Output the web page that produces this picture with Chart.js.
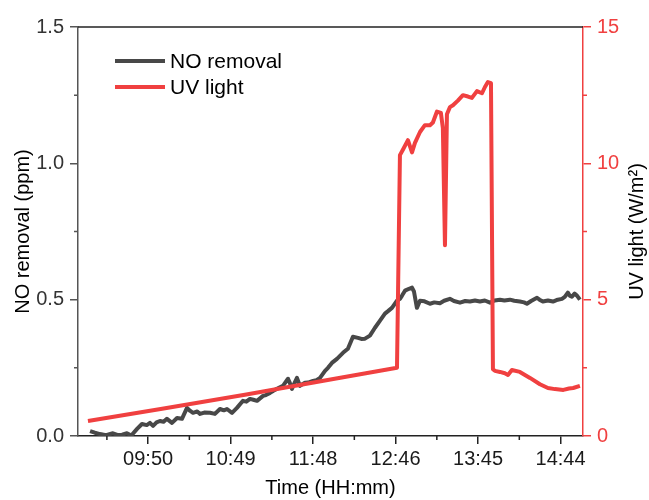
<!DOCTYPE html>
<html><head><meta charset="utf-8">
<script src="https://cdn.jsdelivr.net/npm/chart.js@4.4.1/dist/chart.umd.min.js"></script>
<style>html,body{margin:0;padding:0;background:#fff}#wrap{width:649px;height:500px}</style>
</head><body><div id="wrap"><canvas id="c" width="649" height="500"></canvas></div>
<script>
// x values are minutes after 09:00
const xTickMinutes = [50, 108.8, 167.6, 226.4, 285.2, 344];
const xTickLabels = ['09:50', '10:49', '11:48', '12:46', '13:45', '14:44'];
const xMinorMinutes = [20.6, 79.4, 138.2, 197, 255.8, 314.6];
const leftTicks = [0, 0.5, 1.0, 1.5];
const leftMinor = [0.25, 0.75, 1.25];
const rightTicks = [0, 5, 10, 15];
const rightMinor = [2.5, 7.5, 12.5];
const rightTitle = 'UV light (W/m²)';

const noTime = [8.6,12,15.7,20,24.9,28,31.4,34.9,38,42.1,45.6,49,51.3,53.5,56,58.4,61,63.4,67,70.6,74.1,77.7,80,82,85,87,90,94.1,97.6,101.2,104,106.2,109.8,113.3,117.6,120,122.6,125,127.6,131.9,134,136.9,139,141.8,146.1,149.7,151,152.5,154,156.1,158.2,161.8,164,167.5,170,172.5,176.1,178.2,181,184.6,188.9,192.4,196,199.6,202,204.6,208.1,211.7,215.3,218.8,221,223.8,227.4,229.5,231,233.1,236,238.1,239.5,241.6,243.8,247,250.9,254,258,261,265.1,268,272.3,276,279.4,283,286.5,290,293.7,297,300.8,304,307.9,311,315,318,320,323,327.2,329,331.4,335,338.6,342,345,347,349.2,350.5,352.1,354,355.7,357.8];
const noValue = [0.018,0.012,0.007,0.003,0.010,0.004,0.005,0.010,0.002,0.026,0.044,0.040,0.048,0.037,0.050,0.055,0.052,0.063,0.048,0.066,0.063,0.103,0.092,0.085,0.090,0.081,0.086,0.085,0.081,0.099,0.094,0.099,0.085,0.103,0.129,0.126,0.136,0.133,0.129,0.147,0.150,0.158,0.165,0.173,0.184,0.210,0.195,0.173,0.190,0.213,0.184,0.195,0.196,0.202,0.205,0.213,0.239,0.250,0.268,0.283,0.305,0.320,0.364,0.360,0.356,0.357,0.368,0.397,0.423,0.449,0.458,0.470,0.496,0.503,0.515,0.533,0.540,0.544,0.530,0.470,0.496,0.494,0.485,0.490,0.487,0.496,0.503,0.495,0.489,0.495,0.493,0.497,0.493,0.497,0.489,0.497,0.500,0.497,0.500,0.496,0.493,0.490,0.485,0.495,0.507,0.500,0.493,0.497,0.493,0.500,0.503,0.510,0.526,0.515,0.511,0.522,0.515,0.500];

const uvTime = [7.1,60,120,180,227.4,229.5,231.6,235.2,238.1,240.2,243.8,247.3,250.9,253,255.9,258.7,260.1,261.6,263,265.1,267.3,270.8,274.4,278,280.8,284.4,288,290.1,292.2,294.4,295.8,297.2,300.8,304.3,306.5,309.3,315,322.2,329.3,335,340,346,350,353,357.8];
const uvValue = [0.55,1.0,1.52,2.07,2.5,10.3,10.5,10.85,10.4,10.75,11.15,11.4,11.4,11.5,11.9,11.85,11.3,7.0,11.8,12.06,12.13,12.3,12.5,12.45,12.4,12.65,12.57,12.8,12.98,12.94,2.45,2.39,2.35,2.3,2.24,2.42,2.35,2.13,1.9,1.76,1.72,1.69,1.74,1.76,1.84];

const FONT = '"Liberation Sans", Arial, sans-serif';
const GRAY = '#484848';
const RED = '#F04040';

const pts = (xs, ys) => xs.map((x, i) => ({x: x, y: ys[i]}));

const extras = {
  id: 'extras',
  afterDraw(chart) {
    const ctx = chart.ctx, a = chart.chartArea;
    const sx = chart.scales.x, sy = chart.scales.y, sr = chart.scales.y1;
    ctx.save();
    // top frame line
    ctx.strokeStyle = '#222'; ctx.lineWidth = 1.5;
    ctx.beginPath(); ctx.moveTo(a.left, a.top); ctx.lineTo(a.right, a.top); ctx.stroke();
    // minor ticks
    ctx.beginPath();
    xMinorMinutes.forEach(v => { const p = sx.getPixelForValue(v); ctx.moveTo(p, a.bottom); ctx.lineTo(p, a.bottom + 4); });
    ctx.stroke();
    ctx.strokeStyle = '#555';
    ctx.beginPath();
    leftMinor.forEach(v => { const p = sy.getPixelForValue(v); ctx.moveTo(a.left, p); ctx.lineTo(a.left - 4, p); });
    ctx.stroke();
    ctx.strokeStyle = RED;
    ctx.beginPath();
    rightMinor.forEach(v => { const p = sr.getPixelForValue(v); ctx.moveTo(a.right, p); ctx.lineTo(a.right + 4, p); });
    ctx.stroke();
    // right axis title, reading bottom-to-top
    ctx.save();
    ctx.translate(sr.right - 12, (a.top + a.bottom) / 2);
    ctx.rotate(-Math.PI / 2);
    ctx.font = '20px ' + FONT; ctx.fillStyle = '#000'; ctx.textAlign = 'center'; ctx.textBaseline = 'middle';
    ctx.fillText(rightTitle, 0, 0);
    ctx.restore();
    // legend
    const items = [[chart.data.datasets[0].label, GRAY], [chart.data.datasets[1].label, RED]];
    ctx.font = '21px ' + FONT; ctx.textBaseline = 'middle'; ctx.textAlign = 'left';
    items.forEach((it, i) => {
      const y = a.top + 34 + i * 26;
      ctx.strokeStyle = it[1]; ctx.lineWidth = 4; ctx.lineCap = 'butt';
      ctx.beginPath(); ctx.moveTo(a.left + 37, y); ctx.lineTo(a.left + 87, y); ctx.stroke();
      ctx.fillStyle = '#000'; ctx.fillText(it[0], a.left + 92, y + 1);
    });
    ctx.restore();
  }
};

new Chart(document.getElementById('c'), {
  type: 'line',
  data: {
    datasets: [
      {label: 'NO removal', data: pts(noTime, noValue), yAxisID: 'y', borderColor: GRAY, borderWidth: 4, pointRadius: 0, tension: 0, order: 2, borderJoinStyle: 'round'},
      {label: 'UV light', data: pts(uvTime, uvValue), yAxisID: 'y1', borderColor: RED, borderWidth: 4, pointRadius: 0, tension: 0, order: 1, borderJoinStyle: 'round'}
    ]
  },
  options: {
    responsive: false, animation: false, devicePixelRatio: 1,
    layout: {padding: {top: 27, left: 0, right: 0, bottom: 0}},
    plugins: {legend: {display: false}, tooltip: {enabled: false}},
    scales: {
      x: {
        type: 'linear', min: 0, max: 360, position: 'bottom',
        afterBuildTicks: s => { s.ticks = xTickMinutes.map(v => ({value: v})); },
        afterFit: s => { s.height = 64; },
        ticks: {autoSkip: false, maxRotation: 0, padding: 3, color: '#1a1a1a', font: {family: FONT, size: 20},
          callback: (v, i) => xTickLabels[i]},
        grid: {drawOnChartArea: false, drawTicks: true, tickLength: 8, color: '#222', lineWidth: 1.5},
        border: {display: true, color: '#222', width: 1.5},
        title: {display: true, text: 'Time (HH:mm)', color: '#000', font: {family: FONT, size: 20}, padding: {top: 0, bottom: 0}}
      },
      y: {
        position: 'left', min: 0, max: 1.5,
        afterBuildTicks: s => { s.ticks = leftTicks.map(v => ({value: v})); },
        afterFit: s => { s.width = 78; },
        ticks: {padding: 6, color: '#333', font: {family: FONT, size: 20}, callback: v => v.toFixed(1)},
        grid: {drawOnChartArea: false, drawTicks: true, tickLength: 8, color: '#555', lineWidth: 1.5},
        border: {display: true, color: '#555', width: 1.5},
        title: {display: true, text: 'NO removal (ppm)', color: '#000', font: {family: FONT, size: 20}, padding: {top: 11, bottom: 0}}
      },
      y1: {
        position: 'right', min: 0, max: 15,
        afterBuildTicks: s => { s.ticks = rightTicks.map(v => ({value: v})); },
        afterFit: s => { s.width = 66; },
        ticks: {padding: 6, color: RED, font: {family: FONT, size: 20}, callback: v => String(v)},
        grid: {drawOnChartArea: false, drawTicks: true, tickLength: 8, color: RED, lineWidth: 1.5},
        border: {display: true, color: RED, width: 1.5},
        title: {display: false}
      }
    }
  },
  plugins: [extras]
});
</script></body></html>
